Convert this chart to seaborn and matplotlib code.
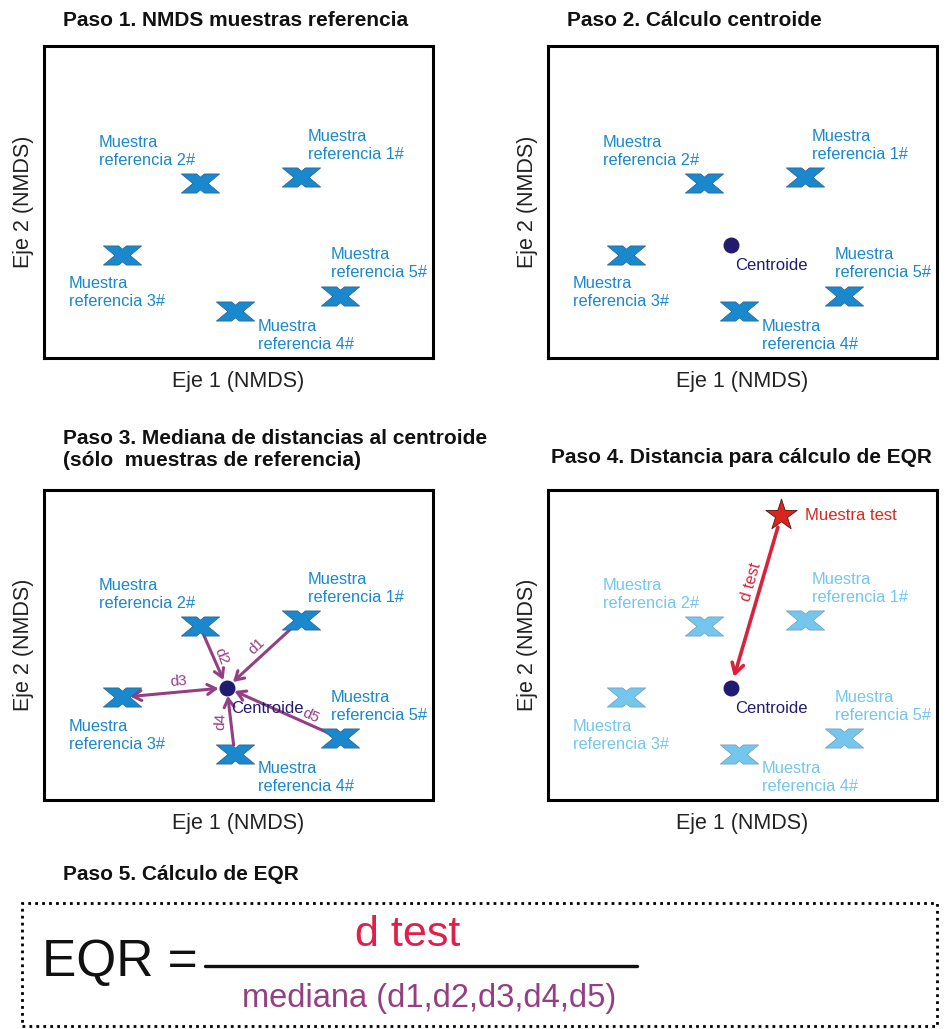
import numpy as np
import pandas as pd
import seaborn as sns
from matplotlib import pyplot as plt
from matplotlib.path import Path
from matplotlib.patches import Rectangle
from matplotlib.lines import Line2D

# Reference samples in NMDS space
ref_names = ["1#", "2#", "3#", "4#", "5#"]
ref_x = [6.6, 4.0, 2.0, 4.9, 7.6]
ref_y = [4.65, 4.5, 2.65, 1.2, 1.6]
centroid_x = 4.7
centroid_y = 2.9
test_x = 6.0
test_y = 7.35
dist_names = ["d1", "d2", "d3", "d4", "d5"]

titles = ["Paso 1. NMDS muestras referencia",
          "Paso 2. Cálculo centroide",
          "Paso 3. Mediana de distancias al centroide\n(sólo  muestras de referencia)",
          "Paso 4. Distancia para cálculo de EQR"]

BLUE = "#1a88cc"
LIGHT = "#74c6ee"
PURPLE = "#943f83"
NAVY = "#221c70"
RED = "#d8233d"

W, H = 947, 1029
sns.set_theme(style="white")
plt.rcParams['font.family'] = ['Liberation Sans', 'DejaVu Sans']

# flat "X" marker, outline of two crossing thick bars
xv = [(-1, 0.5), (-0.2, 0.5), (0, 0.333), (0.2, 0.5), (1, 0.5), (0.4, 0),
      (1, -0.5), (0.2, -0.5), (0, -0.333), (-0.2, -0.5), (-1, -0.5), (-0.4, 0),
      (-1, 0.5)]
xc = [Path.MOVETO] + [Path.LINETO] * 11 + [Path.CLOSEPOLY]
xmark = Path(xv, xc)

# label offsets in pixels (dx, dy) relative to each marker
lab_off = [(7, 31), (-101, 31), (-53, -38), (23, -24), (-9, 32)]

df = pd.DataFrame({"name": ref_names, "x": ref_x, "y": ref_y})

fig = plt.figure(figsize=(W / 100, H / 100), dpi=100)


def px_axes(l, t, r, b):
    return fig.add_axes([l / W, 1 - b / H, (r - l) / W, (b - t) / H])


boxes = [(44, 46, 433, 358), (548, 46, 937, 358), (44, 490, 433, 800), (548, 490, 937, 800)]
axes = [px_axes(*b) for b in boxes]

for i, ax in enumerate(axes):
    col = LIGHT if i == 3 else BLUE
    edge = "#6d9cb8" if i == 3 else "#2a5f8a"
    sns.scatterplot(data=df, x="x", y="y", ax=ax, marker=xmark, s=760,
                    color=col, edgecolor=edge, linewidth=0.5, zorder=4)
    for k in range(len(ref_names)):
        ax.annotate("Muestra\nreferencia " + ref_names[k], (ref_x[k], ref_y[k]),
                    xytext=lab_off[k], textcoords="offset pixels",
                    ha="left", va="center", fontsize=11.8, color=col,
                    linespacing=1.25, zorder=5)
    if i >= 1:
        ax.scatter([centroid_x], [centroid_y], s=110, color=NAVY, zorder=6)
        ax.annotate("Centroide", (centroid_x, centroid_y), xytext=(4, -21),
                    textcoords="offset pixels", ha="left", va="center",
                    fontsize=12, color=NAVY, zorder=7)
    ax.set_xlim(0, 10)
    ax.set_ylim(0, 8)
    ax.set_xticks([])
    ax.set_yticks([])
    ax.set_xlabel("Eje 1 (NMDS)", fontsize=15.5, labelpad=9, color="#222222")
    ax.set_ylabel("Eje 2 (NMDS)", fontsize=15.5, labelpad=7, color="#222222")
    for sp in ax.spines.values():
        sp.set_visible(True)
        sp.set_color("black")
        sp.set_linewidth(2.2)

# Step 3: arrows from reference samples to centroid
ax3 = axes[2]
d_off = [(30, 41), (-6, 31), (-48, 6), (-6, -34), (84, -28)]
d_rot = [44, -68, 4, 88, -24]
for k in range(len(ref_names)):
    style = "<->,head_length=0.5,head_width=0.3" if k == 2 else "->,head_length=0.5,head_width=0.3"
    ax3.annotate("", xy=(centroid_x, centroid_y), xytext=(ref_x[k], ref_y[k]),
                 arrowprops=dict(arrowstyle=style, color=PURPLE, lw=2.2,
                                 shrinkA=6, shrinkB=6), zorder=3)
    ax3.annotate(dist_names[k], (centroid_x, centroid_y), xytext=d_off[k],
                 textcoords="offset pixels", ha="center", va="center",
                 rotation=d_rot[k], fontsize=11, color=PURPLE)

# Step 4: test sample and its distance
ax4 = axes[3]
ax4.annotate("", xy=(centroid_x, centroid_y), xytext=(test_x, test_y),
             arrowprops=dict(arrowstyle="->,head_length=0.6,head_width=0.35",
                             color=RED, lw=2.6, shrinkA=9, shrinkB=8), zorder=3)
ax4.scatter([test_x], [test_y], marker="*", s=560, color="#d9261c",
            edgecolor="#5a1010", linewidth=0.6, zorder=8)
ax4.annotate("Muestra test", (test_x, test_y), xytext=(24, 0),
             textcoords="offset pixels", ha="left", va="center",
             fontsize=12, color="#d42a22")
ax4.annotate("d test", (centroid_x, centroid_y), xytext=(20, 106),
             textcoords="offset pixels", ha="center", va="center",
             rotation=74, fontsize=11.5, color=RED)

# titles
title_pos = [(63, 20), (567, 20), (63, 449), (551, 458)]
for t, (x, y) in zip(titles, title_pos):
    fig.text(x / W, 1 - y / H, t, ha="left", va="center", fontsize=15,
             fontweight="bold", color="#111111", linespacing=1.2)

fig.text(63 / W, 1 - 875 / H, "Paso 5. Cálculo de EQR", ha="left", va="center",
         fontsize=15, fontweight="bold", color="#111111")

# formula box
fig.patches.append(Rectangle((22 / W, 1 - 1026 / H), (937 - 22) / W, (1026 - 903) / H,
                             transform=fig.transFigure, fill=False, edgecolor="black",
                             linestyle=(0, (1, 1.5)), linewidth=2))
fig.text(42 / W, 1 - 963 / H, "EQR =", ha="left", va="center", fontsize=37,
         color="#111111")
fig.lines.append(Line2D([205 / W, 637 / W], [1 - 966 / H, 1 - 966 / H],
                        transform=fig.transFigure, color="#111111", lw=2.4))
fig.text(408 / W, 1 - 935 / H, "d test", ha="center", va="center", fontsize=31,
         color="#e0204a")
fig.text(429 / W, 1 - 999 / H, "mediana (d1,d2,d3,d4,d5)", ha="center", va="center",
         fontsize=23.5, color=PURPLE)

fig.savefig("out.png", dpi=100)
